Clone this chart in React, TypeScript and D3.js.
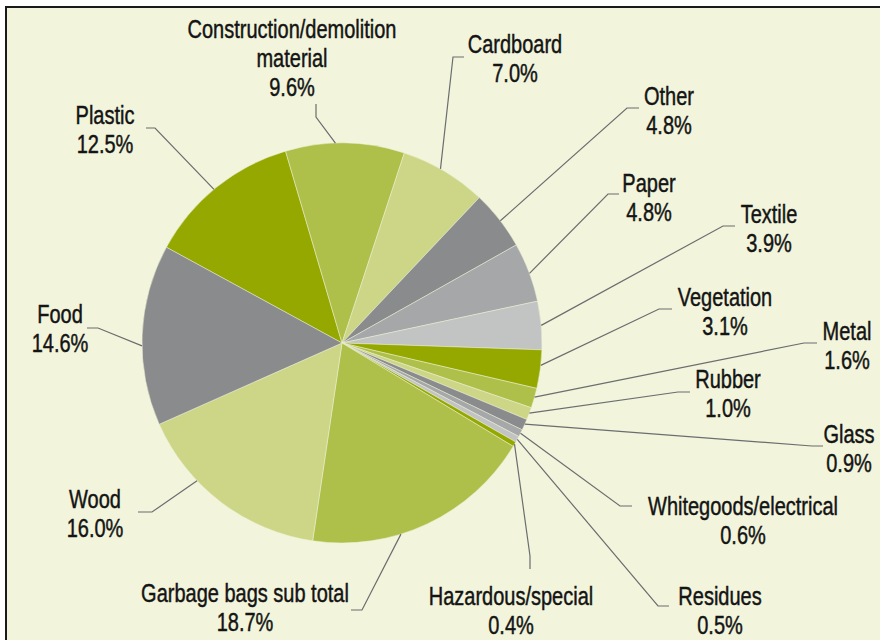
import * as d3 from "d3";

// waste composition, share of total (%)
const categories = [
  "Plastic",
  "Construction/demolition\nmaterial",
  "Cardboard",
  "Other",
  "Paper",
  "Textile",
  "Vegetation",
  "Metal",
  "Rubber",
  "Glass",
  "Whitegoods/electrical",
  "Residues",
  "Hazardous/special",
  "Garbage bags sub total",
  "Wood",
  "Food",
];
const shares = [12.5, 9.6, 7.0, 4.8, 4.8, 3.9, 3.1, 1.6, 1.0, 0.9, 0.6, 0.5, 0.4, 18.7, 16.0, 14.6];

// colours repeat every six slices
const palette = ["#94a800", "#afc04a", "#ccd686", "#898b8c", "#a5a7a8", "#c2c4c3"];

// label placement: text centre x / first baseline, leader elbow + end, where on the slice the leader starts
const labelX = [105, 292, 515, 669, 649, 769, 725, 847, 728, 849, 743, 720, 511, 245, 95, 60];
const labelY = [124, 38, 53, 105, 192, 223, 306, 340, 388, 443, 515, 605, 605, 602, 508, 323];
const elbows = [
  [155, 128], [316, 117], [453, 57], [627, 108], [608, 194], [723, 226], [659, 309], [804, 343],
  [678, 392], [812, 446], [620, 506], [658, 606], [530, 556], [362, 610], [152, 512], [98, 328],
];
const ends = [
  [146, 128], [316, 104], [464, 57], [639, 108], [619, 194], [735, 226], [672, 309], [817, 343],
  [690, 392], [823, 446], [632, 506], [669, 606], [530, 569], [351, 610], [138, 512], [87, 328],
];
const leaderAt = [0.48, 0.42, 0.45, 0.52, 0.52, 0.5, 0.4, 0.45, 0.45, 0.45, 0.5, 0.5, 0.5, 0.62, 0.66, 0.44];

const W = 880;
const H = 640;
const cx = 342;
const cy = 343;
const radius = 200;
const start = (-61.4 * Math.PI) / 180;
const lineH = 29;
// no condensed face installed, so squeeze Liberation Sans horizontally
const font = "'Liberation Sans', Arial, sans-serif";
const squeeze = 0.8;

export default function App() {
  const pie = d3
    .pie<number>()
    .value((d) => d)
    .sort(null)
    .startAngle(start)
    .endAngle(start + 2 * Math.PI);
  const slices = pie(shares);
  const arc = d3.arc<d3.PieArcDatum<number>>().innerRadius(0).outerRadius(radius);

  return (
    <svg
      width={W}
      height={H}
      style={{ position: "absolute", left: 0, top: 0, display: "block" }}
    >
      <rect x={0} y={0} width={W} height={H} fill="#ffffff" />
      <rect x={6} y={7} width={W + 20} height={H + 20} fill="#f2f4dc" stroke="#1a1a1a" strokeWidth={2} />

      <g transform={`translate(${cx},${cy})`}>
        {slices.map((s, i) => (
          <path
            key={i}
            d={arc(s) || ""}
            fill={palette[i % palette.length]}
            stroke="#eef0d6"
            strokeWidth={0.5}
          />
        ))}
      </g>

      {slices.map((s, i) => {
        const a = s.startAngle + leaderAt[i] * (s.endAngle - s.startAngle);
        const x0 = cx + radius * Math.sin(a);
        const y0 = cy - radius * Math.cos(a);
        const pts = [[x0, y0], elbows[i], ends[i]];
        return (
          <polyline
            key={i}
            points={pts.map((p) => p.join(",")).join(" ")}
            fill="none"
            stroke="#6b6d6f"
            strokeWidth={1.2}
          />
        );
      })}

      {categories.map((c, i) => {
        const lines = [...c.split("\n"), `${shares[i].toFixed(1)}%`];
        return (
          <text
            key={i}
            transform={`translate(${labelX[i]},${labelY[i]}) scale(${squeeze},1)`}
            textAnchor="middle"
            fontFamily={font}
            fontSize={25}
            fill="#141414"
            stroke="#141414"
            strokeWidth={0.45}
          >
            {lines.map((l, j) => (
              <tspan key={j} x={0} dy={j === 0 ? 0 : lineH}>
                {l}
              </tspan>
            ))}
          </text>
        );
      })}
    </svg>
  );
}
